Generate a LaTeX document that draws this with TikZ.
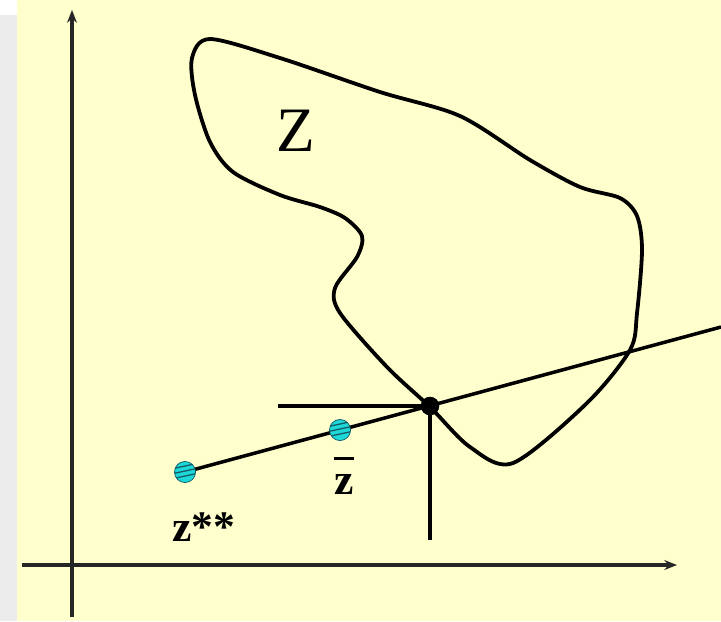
\documentclass[tikz,border=0pt]{standalone}
\usepackage{fontspec}
\setmainfont{Liberation Serif}
\usepackage{tikz}
\usetikzlibrary{arrows.meta,positioning,calc}
\definecolor{paper}{RGB}{255,255,206}
\definecolor{side}{RGB}{236,236,236}
\definecolor{ballC}{RGB}{30,215,215}
\definecolor{ballS}{RGB}{20,90,100}

\begin{document}
\begin{tikzpicture}[x=0.025cm, y=-0.025cm, >={Stealth[length=9pt,width=7pt]},
  ax/.style={line width=2.4pt, black!85},
  ln/.style={line width=2.5pt, black},
  bd/.style={line width=2.7pt, black, line join=round},
  pt/.style={circle, draw=ballS, line width=0.5pt, fill=ballC, inner sep=0pt, minimum size=15pt,
             path picture={\foreach \k in {-8,-3,2,7}
               \draw[ballS, line width=0.9pt] ([shift={(-14,\k)}]path picture bounding box.center) -- ++(28,-6);}},
  opt/.style={circle, fill=black, inner sep=0pt, minimum size=13pt},
  lbl/.style={inner sep=0pt, font=\fontsize{31}{25}\selectfont\bfseries}]
  \useasboundingbox (0,0) rectangle (721,621);
  \fill[white] (0,0) rectangle (721,621);
  \fill[side] (0,15) rectangle (17,621);
  \fill[paper] (17,0) rectangle (721,621);
  % axes
  \coordinate (yb) at (72,617); \coordinate (yt) at (72,10);
  \coordinate (xl) at (22,565); \coordinate (xr) at (677,565);
  \draw[ax, ->] (yb) -- (yt);
  \draw[ax, ->] (xl) -- (xr);
  % the set Z
  \draw[bd] plot[smooth cycle, tension=0.5] coordinates {
    (210,39) (280,58) (380,92) (460,116) (530,160) (580,187) (620,198) (637,216)
    (642,250) (637,313) (630,350) (587,403) (513,463) (470,447) (430,407) (387,367)
    (340,313) (335,288) (357,257) (362,236) (345,218) (320,207) (280,195) (233,172)
    (210,142) (195,95) (192,58)};
  \node[inner sep=0pt, anchor=south, font=\fontsize{45}{50}\selectfont] (zl) at (296,152) {Z};
  % points and lines
  \coordinate (le) at (721,327);
  \coordinate (hl) at (278,406);
  \coordinate (vb) at (430,540);
  \node[opt] (zo) at (430,406) {};
  \draw[ln] (185,472) coordinate (zs0) -- (le);
  \draw[ln] (hl) -- (zo.center) -- (vb);
  \node[pt] (zss) at (zs0) {};
  \node[pt] (zbar) at (340,430) {};
  \node[opt] at (zo) {};
  \node[lbl, anchor=south west] (zssl) at (172,542) {z**};
  \node[lbl, anchor=south, align=center] (zbarl) at (344,495) {\rule{0.5cm}{2pt}\\\textbf{z}};
\end{tikzpicture}
\end{document}
